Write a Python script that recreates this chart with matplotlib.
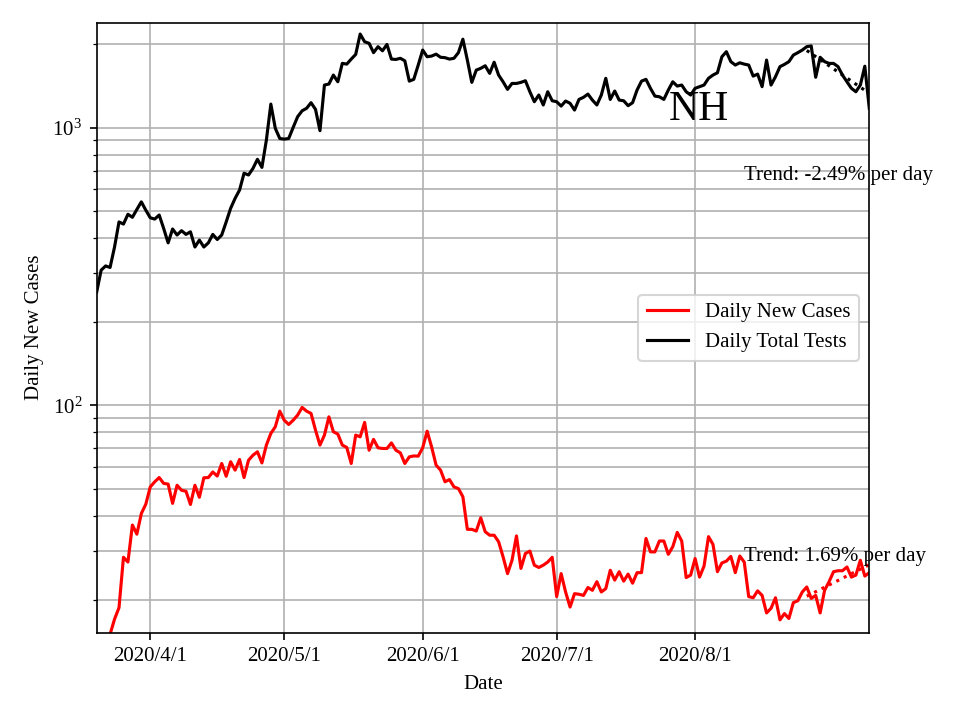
import numpy as np
import pandas as pd
import matplotlib
matplotlib.use('Agg')
import matplotlib.pyplot as plt

plt.rcParams['font.family'] = ['Liberation Serif', 'DejaVu Serif']
plt.rcParams['mathtext.fontset'] = 'stix'

# Data (NH, from 2020-03-20)
start_date = '2020-03-20'
new_cases = [9, 11, 13, 15, 17, 18.7, 28.4, 27.3, 37.1, 34.4,
             40.8, 44.1, 50.9, 53.1, 55.0, 52.4, 52.1, 44.4, 51.6, 49.5,
             49.1, 44.0, 51.6, 46.7, 54.9, 55.0, 57.6, 55.7, 61.8, 55.6,
             62.7, 58.5, 63.9, 55.0, 63.5, 66.2, 68.1, 62.1, 72.0, 79.3,
             83.8, 95.4, 88.5, 85.4, 88.5, 92.3, 98.4, 95.4, 93.6, 81.5,
             72.0, 78.2, 91.0, 80.4, 78.9, 72.0, 70.6, 61.8, 78.2, 77.1,
             86.9, 69.0, 75.5, 70.4, 70.0, 70.0, 73.3, 69.0, 67.5, 61.8,
             65.3, 65.8, 65.7, 70.4, 80.8, 70.9, 61.0, 58.5, 53.1, 54.1,
             50.9, 50.2, 46.9, 35.8, 35.8, 35.3, 39.4, 35.1, 34.1, 34.1,
             32.3, 28.5, 24.8, 27.7, 33.9, 25.9, 29.3, 29.9, 26.6, 26.1,
             26.6, 27.3, 28.4, 20.5, 24.8, 21.3, 18.8, 21.0, 20.9, 20.7,
             22.1, 21.6, 23.2, 21.3, 21.9, 25.5, 23.5, 25.2, 23.3, 24.7,
             22.9, 25.0, 25.0, 33.2, 29.7, 29.7, 32.5, 32.5, 29.1, 31.0,
             34.9, 32.5, 24.0, 24.5, 28.1, 24.1, 26.4, 33.7, 31.6, 25.2,
             27.1, 27.5, 28.6, 25.0, 28.7, 27.3, 20.5, 20.3, 21.5, 20.7,
             17.9, 18.6, 20.3, 16.9, 17.8, 17.1, 19.5, 19.8, 21.3, 22.2,
             20.2, 20.7, 17.9, 21.6, 23.2, 25.2, 25.4, 25.4, 26.2, 24.1,
             24.5, 27.7, 24.3, 25.0]
total_tests = [256, 307, 318, 314, 372, 458, 450, 488, 476, 508,
               541, 505, 474, 469, 485, 434, 385, 432, 411, 426,
               413, 422, 372, 394, 372, 385, 413, 396, 411, 458,
               513, 557, 597, 686, 676, 714, 770, 720, 903, 1217,
               995, 915, 910, 915, 1003, 1096, 1151, 1175, 1231, 1165,
               976, 1425, 1437, 1548, 1464, 1706, 1695, 1767, 1837, 2175,
               2040, 2014, 1864, 1959, 1893, 1996, 1767, 1762, 1779, 1742,
               1472, 1494, 1682, 1905, 1802, 1812, 1841, 1794, 1788, 1767,
               1779, 1864, 2084, 1753, 1457, 1613, 1637, 1672, 1570, 1722,
               1548, 1464, 1375, 1444, 1444, 1457, 1477, 1348, 1241, 1312,
               1208, 1348, 1251, 1241, 1197, 1248, 1225, 1158, 1265, 1287,
               1322, 1258, 1208, 1312, 1507, 1265, 1356, 1258, 1251, 1201,
               1231, 1367, 1472, 1494, 1387, 1300, 1293, 1265, 1367, 1464,
               1413, 1425, 1348, 1312, 1387, 1406, 1425, 1507, 1548, 1578,
               1802, 1879, 1730, 1682, 1714, 1695, 1682, 1535, 1560, 1406,
               1753, 1425, 1527, 1660, 1691, 1730, 1827, 1864, 1905, 1959,
               1971, 1520, 1794, 1730, 1705, 1705, 1660, 1548, 1464, 1387,
               1348, 1425, 1666, 1175]
tick_dates = ['2020-04-01', '2020-05-01', '2020-06-01', '2020-07-01', '2020-08-01']
tick_labels = ['2020/4/1', '2020/5/1', '2020/6/1', '2020/7/1', '2020/8/1']
state = 'NH'
trend_cases = '1.69'
trend_tests = '-2.49'
trend_days = 15

dates = pd.date_range(start_date, periods=len(new_cases))
cases = np.array(new_cases)
tests = np.array(total_tests)

def trend_line(d, v, n):
    t = np.arange(n)
    k, b = np.polyfit(t, np.log(v[-n:]), 1)
    return d[-n:], np.exp(b + k * t)

fig = plt.figure(figsize=(6.4, 4.8), dpi=150)
ax = fig.add_axes([0.1007, 0.1213, 0.8048, 0.8472])

ax.plot(dates, cases, color='red', label='Daily New Cases')
ax.plot(dates, tests, color='black', label='Daily Total Tests')

td, tv = trend_line(dates, cases, trend_days)
ax.plot(td, tv, color='red', linestyle=':')
td, tv = trend_line(dates, tests, trend_days)
ax.plot(td, tv, color='black', linestyle=':')

ax.set_yscale('log')
ax.set_xlim(dates[0], dates[-1])
ax.set_ylim(15.2, 2390)
ax.set_xticks(pd.to_datetime(tick_dates))
ax.set_xticklabels(tick_labels)
ax.grid(True, which='both', axis='y')
ax.grid(True, which='major', axis='x')

ax.text(pd.Timestamp('2020-08-12'), 675, 'Trend: ' + trend_tests + '% per day', va='center')
ax.text(pd.Timestamp('2020-08-12'), 28.7, 'Trend: ' + trend_cases + '% per day', va='center')
ax.text(0.779, 0.858, state, transform=ax.transAxes, fontsize=20, ha='center', va='center')

ax.set_xlabel('Date')
ax.set_ylabel('Daily New Cases')
ax.legend(loc='center right')

plt.savefig('out.png')
